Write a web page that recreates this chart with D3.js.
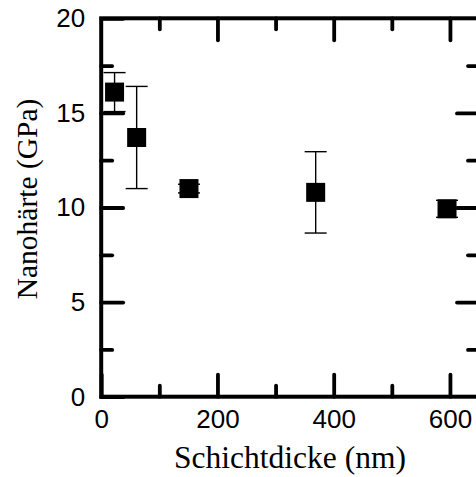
<!DOCTYPE html>
<html><head><meta charset="utf-8">
<script src="https://cdn.jsdelivr.net/npm/d3@7"></script>
<style>body{margin:0;background:#fff}svg{display:block}</style>
</head><body>
<svg id="c" width="476" height="477"></svg>
<script>
const thickness = [23, 61, 151, 369, 595];
const hardness = [16.1, 13.7, 11.0, 10.8, 9.93];
const errors = [1.03, 2.7, 0.23, 2.15, 0.45];
const xMajor = [0, 200, 400, 600];
const xMinor = [100, 300, 500];
const yMajor = [0, 5, 10, 15, 20];
const yMinor = [2.5, 7.5, 12.5, 17.5];
const xTitle = "Schichtdicke (nm)";
const yTitle = "Nanohärte (GPa)";

const L = 101.2, R = 479, T = 18.3, B = 396.7;
const x = d3.scaleLinear().domain([0, 650]).range([L, R]);
const y = d3.scaleLinear().domain([0, 20]).range([B, T]);
const svg = d3.select("#c");

function styleAxis(g){
  g.select(".domain").remove();
  g.selectAll(".tick line").attr("stroke","#000").attr("stroke-width",3.8).attr("stroke-linecap","round");
  g.selectAll("text").attr("font-family","'Liberation Sans', Arial, sans-serif").attr("font-size",26).attr("fill","#000");
}
// major ticks with labels
svg.append("g").attr("transform",`translate(0,${B})`)
  .call(d3.axisBottom(x).tickValues(xMajor).tickSize(-22).tickPadding(13).tickFormat(d3.format("d"))).call(styleAxis);
svg.append("g").attr("transform",`translate(${L},0)`)
  .call(d3.axisLeft(y).tickValues(yMajor).tickSize(-22).tickPadding(16).tickFormat(d3.format("d"))).call(styleAxis);
// minor ticks
svg.append("g").attr("transform",`translate(0,${B})`)
  .call(d3.axisBottom(x).tickValues(xMinor).tickSize(-11).tickFormat("")).call(styleAxis);
svg.append("g").attr("transform",`translate(${L},0)`)
  .call(d3.axisLeft(y).tickValues(yMinor).tickSize(-11).tickFormat("")).call(styleAxis);
// top and right
svg.append("g").attr("transform",`translate(0,${T})`)
  .call(d3.axisTop(x).tickValues(xMajor.filter(v=>v>0)).tickSize(-22).tickFormat("")).call(styleAxis);
svg.append("g").attr("transform",`translate(0,${T})`)
  .call(d3.axisTop(x).tickValues(xMinor).tickSize(-11).tickFormat("")).call(styleAxis);
svg.append("g").attr("transform",`translate(${R},0)`)
  .call(d3.axisRight(y).tickValues(yMajor.filter(v=>v>0&&v<20)).tickSize(-22).tickFormat("")).call(styleAxis);
svg.append("g").attr("transform",`translate(${R},0)`)
  .call(d3.axisRight(y).tickValues(yMinor).tickSize(-11).tickFormat("")).call(styleAxis);

// frame
svg.append("rect").attr("x",L).attr("y",T).attr("width",R-L).attr("height",B-T)
  .attr("fill","none").attr("stroke","#000").attr("stroke-width",4);

// error bars
const data = thickness.map((t,i)=>({t, h:hardness[i], e:errors[i]}));
const eb = svg.append("g").attr("stroke","#000").attr("stroke-width",1.4);
eb.selectAll("line.v").data(data).join("line").attr("class","v")
  .attr("x1",d=>x(d.t)).attr("x2",d=>x(d.t)).attr("y1",d=>y(d.h+d.e)).attr("y2",d=>y(d.h-d.e));
eb.selectAll("line.t").data(data).join("line").attr("class","t")
  .attr("x1",d=>x(d.t)-11).attr("x2",d=>x(d.t)+11).attr("y1",d=>y(d.h+d.e)).attr("y2",d=>y(d.h+d.e));
eb.selectAll("line.b").data(data).join("line").attr("class","b")
  .attr("x1",d=>x(d.t)-11).attr("x2",d=>x(d.t)+11).attr("y1",d=>y(d.h-d.e)).attr("y2",d=>y(d.h-d.e));
// squares
svg.append("g").selectAll("rect").data(data).join("rect")
  .attr("x",d=>x(d.t)-9.5).attr("y",d=>y(d.h)-9.5).attr("width",19).attr("height",19).attr("fill","#000");

// titles
svg.append("text").attr("x",290).attr("y",468).attr("text-anchor","middle")
  .attr("font-family","'Liberation Serif','Times New Roman',serif").attr("font-size",31.5).attr("fill","#000").text(xTitle);
svg.append("text").attr("transform","translate(36.5,199) rotate(-90)").attr("text-anchor","middle")
  .attr("font-family","'Liberation Serif','Times New Roman',serif").attr("font-size",29.5).attr("fill","#000").text(yTitle);
</script>
</body></html>
